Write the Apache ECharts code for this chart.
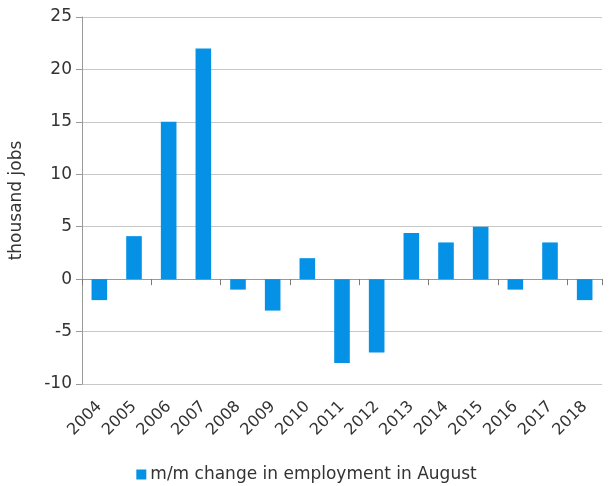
<!DOCTYPE html>
<html>
<head>
<meta charset="utf-8">
<script src="https://cdn.jsdelivr.net/npm/echarts@6/dist/echarts.min.js"></script>
<style>
  html, body { margin: 0; padding: 0; background: #fff; }
  #chart { width: 613px; height: 486px; }
</style>
</head>
<body>
<div id="chart"></div>
<script>
// August month-on-month employment change, thousand jobs
const years = ['2004', '2005', '2006', '2007', '2008', '2009', '2010', '2011',
               '2012', '2013', '2014', '2015', '2016', '2017', '2018'];
const changeAugust = [-2, 4.1, 15, 22, -1, -3, 2, -8, -7, 4.4, 3.5, 5, -1, 3.5, -2];
const seriesName = 'm/m change in employment in August';
const yTicks = { min: -10, max: 25, interval: 5 };

const FONT = 'DejaVu Sans, Verdana, sans-serif';
const TEXT = '#333333';

const chart = echarts.init(document.getElementById('chart'), null, { renderer: 'canvas' });
chart.setOption({
  animation: false,
  backgroundColor: '#ffffff',
  textStyle: { fontFamily: FONT },
  grid: { left: 82, right: 11, top: 17, bottom: 102, containLabel: false },
  legend: {
    data: [seriesName],
    top: 461,
    left: 'center',
    icon: 'rect',
    itemWidth: 10,
    itemHeight: 10,
    itemGap: 4,
    textStyle: { fontFamily: FONT, fontSize: 17, color: TEXT, padding: [0, 0, 0, -1] }
  },
  xAxis: [
    {
      // zero line with category tick marks
      type: 'category',
      data: years,
      position: 'bottom',
      axisLine: { onZero: true, lineStyle: { color: '#9a9a9a', width: 1 } },
      axisTick: { show: true, length: 6, lineStyle: { color: '#7a7a7a' } },
      axisLabel: { show: false },
      splitLine: { show: false }
    },
    {
      // year labels along the bottom edge
      type: 'category',
      data: years,
      position: 'bottom',
      axisLine: { show: false, onZero: false },
      axisTick: { show: false },
      axisLabel: {
        rotate: 45,
        margin: 20,
        fontSize: 16,
        fontFamily: FONT,
        color: TEXT
      },
      splitLine: { show: false }
    }
  ],
  yAxis: {
    type: 'value',
    min: yTicks.min,
    max: yTicks.max,
    interval: yTicks.interval,
    name: 'thousand jobs',
    nameLocation: 'middle',
    nameGap: 57,
    nameTextStyle: { fontFamily: FONT, fontSize: 17, color: TEXT },
    axisLine: { show: true, lineStyle: { color: '#9a9a9a', width: 1 } },
    axisTick: { show: true, length: 6, lineStyle: { color: '#9a9a9a' } },
    axisLabel: { fontSize: 17, fontFamily: FONT, color: TEXT, margin: 10 },
    splitLine: { show: true, lineStyle: { color: '#c8c8c8', width: 1 } }
  },
  series: [
    {
      name: seriesName,
      type: 'bar',
      xAxisIndex: 0,
      data: changeAugust,
      barWidth: '45%',
      itemStyle: { color: '#0591e6' }
    }
  ]
});
</script>
</body>
</html>
